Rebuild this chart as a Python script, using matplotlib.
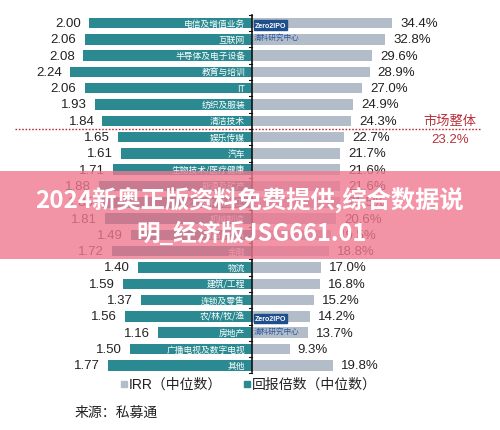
import matplotlib.pyplot as plt
from matplotlib.patches import Rectangle

plt.rcParams['font.family'] = ['Liberation Sans', 'Noto Sans CJK SC', 'DejaVu Sans']

# data
industries = ['电信及增值业务', '互联网', '半导体及电子设备', '教育与培训', 'IT', '纺织及服装',
              '清洁技术', '娱乐传媒', '汽车', '生物技术/医疗健康', '能源及矿产', '化工原料及加工',
              '机械制造', '食品&饮料', '金融', '物流', '建筑/工程', '连锁及零售', '农/林/牧/渔',
              '房地产', '广播电视及数字电视', '其他']
multiple = [2.00, 2.06, 2.08, 2.24, 2.06, 1.93, 1.84, 1.65, 1.61, 1.71, 1.88, 1.85,
            1.81, 1.49, 1.72, 1.40, 1.59, 1.37, 1.56, 1.16, 1.50, 1.77]
irr = [34.4, 32.8, 29.6, 28.9, 27.0, 24.9, 24.3, 22.7, 21.7, 21.6, 21.6, 21.5,
       20.6, 19.5, 18.8, 17.0, 16.8, 15.2, 14.2, 13.7, 9.3, 19.8]
market_irr = 23.2

teal = '#2b8a91'
grey = '#b3bcc9'
red = '#b8323c'

# pixel-ish layout: x=0 is the centre line, y grows downward
px_per_mult = 81.3
px_per_pct = 4.07
row0, step = 24.0, 16.3

fig = plt.figure(figsize=(5, 4.31), dpi=100)
ax = fig.add_axes([0, 0, 1, 1])
ax.set_xlim(-252, 248)
ax.set_ylim(431, 0)
ax.axis('off')

ys = [row0 + i * step for i in range(len(industries))]
lw = [m * px_per_mult for m in multiple]
rw = [p * px_per_pct for p in irr]

ax.barh(ys, [-w for w in lw], height=10.5, color=teal, zorder=2)
ax.barh(ys, rw, height=10.5, color=grey, zorder=2)

for y, name, m, w, p, r in zip(ys, industries, multiple, lw, irr, rw):
    ax.text(-7, y, name, color='white', fontsize=6.3, ha='right', va='center',
            family=['Noto Sans CJK SC'], zorder=3)
    ax.text(-w - 8, y, f'{m:.2f}', fontsize=9.5, ha='right', va='center', color='#222222')
    ax.text(r + 8, y, f'{p:.1f}%', fontsize=9.5, ha='left', va='center', color='#222222')

# centre axis line with small ticks
ax.plot([0, 0], [ys[0] - 8, ys[-1] + 7], color='#111111', lw=1.2, zorder=4)
for i in range(len(ys) + 1):
    yb = row0 - step / 2 + i * step
    ax.plot([-3, 0], [yb, yb], color='#111111', lw=0.8, zorder=4)

# market line
ym = (ys[6] + ys[7]) / 2
ax.plot([-237, 228], [ym, ym], color=red, lw=1.0, ls=(0, (1.2, 1.2)), zorder=1)
ax.text(198, ym - 9, '市场整体', color=red, fontsize=9.5, ha='center', va='center',
        family=['Noto Sans CJK SC'])
ax.text(198, ym + 10, f'{market_irr}%', color=red, fontsize=9.5, ha='center', va='center')

# legend
ax.add_patch(Rectangle((-131, 382), 6, 6, color=grey))
ax.text(-123, 385, 'IRR（中位数）', fontsize=10, va='center', ha='left', color='#222222')
ax.add_patch(Rectangle((-8, 382), 6, 6, color=teal))
ax.text(0, 385, '回报倍数（中位数）', fontsize=10, va='center', ha='left', color='#222222',
        family=['Noto Sans CJK SC'])

ax.text(-177, 413, '来源：私募通', fontsize=10, va='center', ha='left', color='#222222',
        family=['Noto Sans CJK SC'])

# small logo marks
for yl in (ys[0] + 4, ys[18] + 4):
    ax.text(3, yl - 2, 'Zero2IPO', fontsize=5, color='white', weight='bold', va='center',
            bbox=dict(boxstyle='square,pad=0.15', fc='#1f4e8c', ec='#1f4e8c'), zorder=5)
    ax.text(2, yl + 10, '清科研究中心', fontsize=5.5, color='#2a5aa0', va='center',
            family=['Noto Sans CJK SC'], zorder=5)

# overlay banner
ax.add_patch(Rectangle((-252, 172), 500, 88, color='#f07890', alpha=0.8, zorder=6, lw=0))
ax.text(-2, 201, '2024新奥正版资料免费提供,综合数据说', fontsize=17.5, color='white',
        weight='bold', ha='center', va='center', family=['Noto Sans CJK SC'], zorder=7)
ax.text(-1, 234, '明_经济版JSG661.01', fontsize=17, color='white',
        weight='bold', ha='center', va='center', family=['Noto Sans CJK SC'], zorder=7)

fig.savefig('out.png', dpi=100)
